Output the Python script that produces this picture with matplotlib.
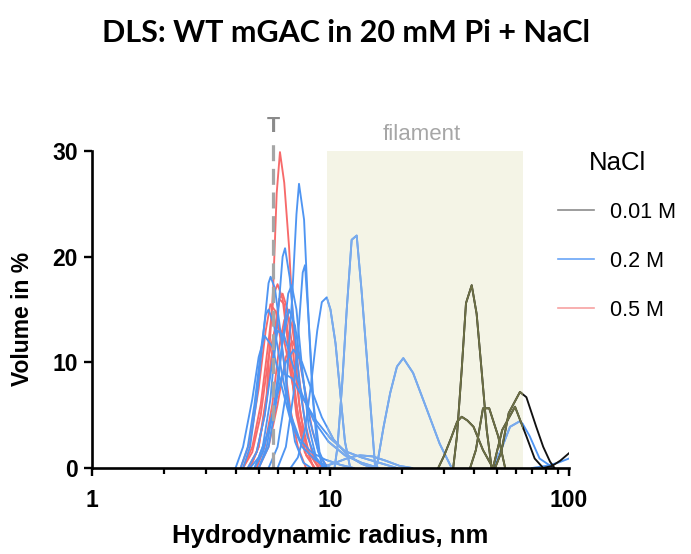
import matplotlib
matplotlib.use("Agg")
import matplotlib.pyplot as plt
from matplotlib.patches import Rectangle
from matplotlib.lines import Line2D
from matplotlib.ticker import LogLocator, NullFormatter

# ---------------- data (radius in nm, volume in %) ----------------
# 0.5 M NaCl (red)
red_curves = [
    ([4.6, 5.0, 5.4, 5.75, 5.95, 6.14, 6.4, 6.7, 7.0, 7.4, 7.9, 8.5],
     [0, 2, 7, 17, 26, 29.9, 27, 21, 13, 6, 2, 0]),
    ([4.3, 4.7, 5.1, 5.5, 5.8, 6.0, 6.3, 6.7, 7.2, 7.8, 8.6],
     [0, 2, 6, 12, 16.5, 17.4, 16, 11, 5, 1.5, 0]),
    ([4.6, 5.0, 5.4, 5.8, 6.1, 6.3, 6.6, 7.0, 7.5, 8.1, 8.9],
     [0, 2, 6.5, 12.5, 16, 16.5, 15, 10.5, 5, 1.5, 0]),
    ([4.2, 4.6, 5.0, 5.35, 5.6, 5.9, 6.3, 6.8, 7.3, 7.9],
     [0, 2.5, 7.5, 13, 15.5, 14.8, 11, 5.5, 2, 0]),
    ([4.9, 5.3, 5.7, 6.1, 6.4, 6.6, 6.9, 7.3, 7.8, 8.4, 9.2],
     [0, 2, 6, 11.5, 14, 14.5, 13.5, 9.5, 4.5, 1.3, 0]),
    ([4.3, 4.7, 5.1, 5.5, 5.9, 6.3, 6.8, 7.4, 8.1, 9.0],
     [0, 1.5, 5, 10.5, 13.5, 12.8, 9, 4.5, 1.5, 0]),
    ([5.0, 5.5, 6.0, 6.5, 6.9, 7.3, 7.8, 8.4, 9.1, 9.8],
     [0, 2, 6, 10.5, 12, 11, 7.5, 3.5, 1, 0]),
    ([4.5, 4.9, 5.3, 5.7, 6.1, 6.4, 6.8, 7.3, 7.9, 8.6],
     [0, 1.5, 5, 11, 16, 15.5, 11, 5, 1.2, 0]),
]

# 0.2 M NaCl (blue)
blue_curves = [
    ([5.5, 6.0, 6.5, 6.9, 7.2, 7.38, 7.75, 8.1, 8.5, 9.0, 9.6],
     [0, 2, 7, 16, 24, 26.9, 23.5, 14, 6, 1.5, 0]),
    ([6.0, 6.5, 7.0, 7.4, 7.65, 7.82, 8.1, 8.4, 8.8, 9.3],
     [0, 2, 7, 14, 18.5, 19.2, 14, 7, 2, 0]),
    ([4.8, 5.2, 5.6, 6.0, 6.3, 6.45, 6.75, 7.1, 7.5, 8.0, 8.7, 9.5],
     [0, 2, 6.5, 14, 20, 20.8, 18, 12.5, 7, 3, 0.8, 0]),
    ([4.3, 4.6, 4.9, 5.25, 5.5, 5.61, 5.85, 6.2, 6.6, 7.1, 7.7, 8.3],
     [0, 2, 6.5, 13, 17.5, 18.1, 17, 12.5, 7, 2.5, 0.5, 0]),
    ([5.0, 5.5, 5.9, 6.3, 6.65, 6.88, 7.2, 7.6, 8.1, 8.7, 9.4],
     [0, 2, 6, 12, 16.5, 17.3, 15, 9.5, 4, 1, 0]),
    ([6.8, 7.3, 7.8, 8.3, 8.8, 9.2, 9.64, 10.0, 10.5, 11.0, 11.5, 12.1],
     [0, 1, 3.5, 8, 13, 15.7, 16.15, 15, 11.8, 7, 2.5, 0]),
    ([10.4, 10.7, 11.2, 11.7, 12.27, 12.88, 13.5, 14.2, 14.9, 15.4],
     [0, 2, 8, 15, 21.6, 22.0, 16.8, 10.5, 4.3, 0]),
    ([15.6, 16.7, 17.8, 19.0, 20.2, 22.2, 25.4, 28.7, 31.9],
     [0, 3.9, 7.1, 9.6, 10.4, 9.0, 5.5, 2.3, 0.2]),
    ([48.0, 52.5, 56.6, 61.9, 63.9, 68.5, 75.3, 84.9],
     [0, 2.0, 3.9, 4.4, 4.2, 3.0, 0.9, 0.1]),
    ([70.0, 80.0, 90.0, 100.0],
     [0, 0.2, 0.5, 0.9]),
    ([4.6, 5.0, 5.5, 6.0, 6.5, 7.0, 7.6, 8.3, 9.2, 10.3, 11.8, 13.5, 15.0],
     [0, 1, 3.5, 7, 10, 11.2, 10, 7.5, 4.8, 2.7, 1.2, 0.4, 0]),
    ([4.2, 4.5, 4.8, 5.1, 5.35, 5.5, 5.8, 6.2, 6.7, 7.4, 8.3, 9.5, 11.0, 12.5],
     [0, 2, 6, 11, 14.5, 15, 13.5, 9.5, 5.5, 2.8, 1.5, 0.8, 0.3, 0]),
    ([4.5, 4.9, 5.3, 5.7, 6.0, 6.4, 6.9, 7.6, 8.5, 9.8, 11.5, 13.5, 16.0],
     [0, 1.5, 5, 10, 13, 12.5, 10, 7, 4.5, 2.5, 1.2, 0.5, 0]),
    ([4.8, 5.2, 5.7, 6.3, 6.9, 7.7, 8.7, 10.0, 11.5, 13.5, 16.0, 19.0],
     [0, 1.5, 5, 9, 8.5, 6.5, 4.5, 2.8, 1.6, 1.0, 0.5, 0]),
    ([9.0, 10.5, 12.0, 13.3, 15.0, 17.0, 19.5, 22.0],
     [0, 0.5, 1.0, 1.2, 1.1, 0.7, 0.2, 0]),
    ([5.0, 5.4, 5.8, 6.3, 6.7, 7.1, 7.6, 8.2, 8.9, 9.7],
     [0, 2, 6, 12, 15, 13.5, 9, 4.5, 1.5, 0]),
    ([4.0, 4.3, 4.7, 5.0, 5.3, 5.7, 6.2, 6.8, 7.6, 8.6, 10.0],
     [0, 2, 6.5, 10.5, 12.5, 11.5, 8, 4.5, 2, 0.8, 0]),
]

# 0.01 M NaCl (black)
black_curves = [
    ([32.7, 33.9, 35.5, 37.0, 39.1, 41.0, 43.0, 45.2, 47.4],
     [0, 3, 9.3, 15.6, 17.3, 14.6, 9.3, 3.6, 0]),
    ([28.3, 30.0, 32.0, 34.0, 35.5, 37.5, 39.8, 43.6, 48.0],
     [0, 1.2, 2.8, 4.4, 4.85, 4.5, 3.9, 1.7, 0]),
    ([38.5, 40.7, 43.6, 46.3, 50.5, 54.0],
     [0, 1.7, 5.65, 5.65, 3.0, 0]),
    ([48.0, 52.5, 59.4, 66.3, 71.8, 78.0],
     [0, 3.6, 5.8, 3.0, 0.9, 0]),
    ([49.0, 52.0, 55.9, 62.3, 66.3, 72.9, 78.0, 83.3, 87.0],
     [0, 1.5, 5.2, 7.2, 6.7, 3.9, 2.0, 0.6, 0]),
    ([78.0, 85.0, 92.0, 100.0],
     [0, 0.2, 0.7, 1.4]),
]

legend_labels = ["0.01 M", "0.2 M", "0.5 M"]
filament_range = (9.7, 64.0)
threshold_radius = 5.75

# ---------------- plotting ----------------
RED = "#f76a6a"
BLUE = "#4f95f2"
BLUE_IN = "#7aabec"
BLACK = "#111111"
OLIVE = "#6c6f44"
GRAY = "#a6a6a6"
FONT = "Liberation Sans"

fig = plt.figure(figsize=(6.91, 5.54), dpi=100)
ax = fig.add_axes([0.1331, 0.1552, 0.6903, 0.5722])

shade = Rectangle((filament_range[0], 0), filament_range[1] - filament_range[0], 30,
                  facecolor="#f4f4e6", edgecolor="none", zorder=1)
ax.add_patch(shade)

for xs, ys in red_curves:
    ax.plot(xs, ys, color=RED, lw=1.35, zorder=2)
for xs, ys in blue_curves:
    ax.plot(xs, ys, color=BLUE, lw=1.35, zorder=2)
    ln, = ax.plot(xs, ys, color=BLUE_IN, lw=1.35, zorder=2.1)
    ln.set_clip_path(shade)
for xs, ys in black_curves:
    ax.plot(xs, ys, color=BLACK, lw=1.35, zorder=2.2)
    ln, = ax.plot(xs, ys, color=OLIVE, lw=1.35, zorder=2.3)
    ln.set_clip_path(shade)

ax.text(24.1, 31.6, "filament", ha="center", va="center", color=GRAY,
        fontsize=16, family=FONT, zorder=5, clip_on=False)

# threshold line
ax.plot([threshold_radius, threshold_radius], [0, 30.9], color=GRAY, lw=2.3,
        ls=(0, (5, 2.4)), zorder=4, clip_on=False)
ax.text(threshold_radius, 32.3, "T", ha="center", va="center", color="#8a8a8a",
        fontsize=15.5, fontweight="bold", family=FONT, clip_on=False)

ax.set_xscale("log")
ax.set_xlim(1, 100)
ax.set_ylim(0, 30)
ax.set_yticks([0, 10, 20, 30])
ax.xaxis.set_major_locator(LogLocator(base=10, subs=(1.0,)))
ax.xaxis.set_minor_locator(LogLocator(base=10, subs=(2, 3, 4, 5, 6, 7, 8, 9)))
ax.xaxis.set_minor_formatter(NullFormatter())
ax.set_xticks([1, 10, 100])
ax.set_xticklabels(["1", "10", "100"])

for s in ["top", "right"]:
    ax.spines[s].set_visible(False)
for s in ["left", "bottom"]:
    ax.spines[s].set_linewidth(1.9)
    ax.spines[s].set_color("black")
    ax.spines[s].set_zorder(6)

ax.tick_params(axis="both", which="major", length=6, width=1.7, labelsize=16.5)
ax.tick_params(axis="x", which="major", pad=9)
ax.tick_params(axis="y", which="major", pad=4)
ax.tick_params(axis="x", which="minor", length=4.5, width=1.6)
for lab in ax.get_xticklabels() + ax.get_yticklabels():
    lab.set_fontweight("bold")
    lab.set_family(FONT)

ax.set_xlabel("Hydrodynamic radius, nm", fontsize=18.5, fontweight="bold",
              family=FONT, labelpad=9)
ax.set_ylabel("Volume in %", fontsize=16.5, fontweight="bold",
              family=FONT, labelpad=10)
ax.yaxis.set_label_coords(-0.122, 0.47)

fig.suptitle("DLS: WT mGAC in 20 mM Pi + NaCl", x=0.5, y=0.966, fontsize=22,
             fontweight="bold", family="Lato")

# legend
handles = [Line2D([], [], color="#8c8c8c", lw=1.2),
           Line2D([], [], color="#6aa6f7", lw=1.2),
           Line2D([], [], color="#f7a2a2", lw=1.2)]
leg = fig.legend(handles, legend_labels, title="NaCl", loc="upper left",
                 bbox_to_anchor=(0.78, 0.762), frameon=False,
                 prop={"family": FONT, "size": 15.5},
                 title_fontproperties={"family": FONT, "size": 18.5},
                 handlelength=1.65, handletextpad=0.75, labelspacing=1.3)
leg._legend_box.sep = 19

fig.savefig("out.png", dpi=100)
